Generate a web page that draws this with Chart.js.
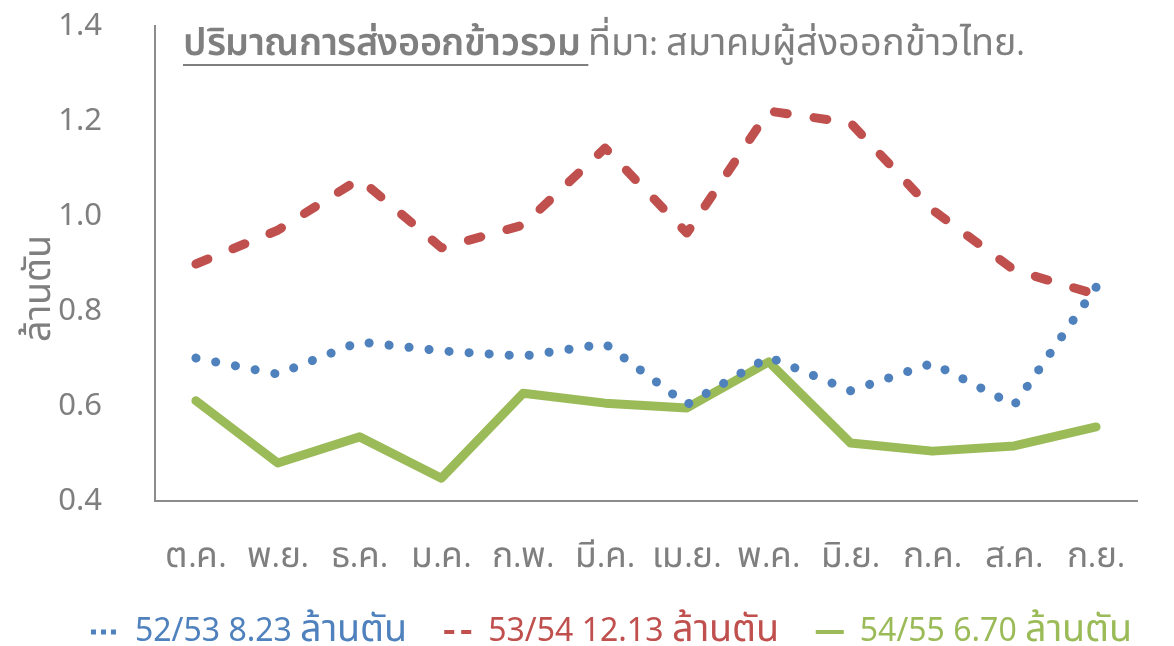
<!DOCTYPE html>
<html>
<head>
<meta charset="utf-8">
<script src="https://cdn.jsdelivr.net/npm/chart.js@4"></script>
<style>
  /* Thai glyphs in the original are drawn larger than the Latin digits */
  @font-face {
    font-family: "ThaiBig";
    src: local("Noto Sans Thai"), local("NotoSansThai-Regular"), local("Noto Sans Thai Regular");
    unicode-range: U+0E00-0E7F;
    size-adjust: 118%;
  }
  @font-face {
    font-family: "ThaiBig";
    font-weight: 600;
    src: local("Noto Sans Thai SemiBold"), local("NotoSansThai-SemiBold"), local("Noto Sans Thai Bold"), local("NotoSansThai-Bold");
    unicode-range: U+0E00-0E7F;
    size-adjust: 118%;
  }
  html, body { margin: 0; padding: 0; background: #ffffff; }
  #wrap { position: relative; width: 1174px; height: 646px; }
  #title {
    position: absolute; left: 183px; top: 23px;
    font-family: "ThaiBig", "Noto Sans", "Noto Sans Thai", sans-serif;
    font-size: 32px; color: #7f7f7f; white-space: nowrap; line-height: 40px;
  }
  #title u { font-weight: 600; letter-spacing: -0.4px; text-decoration-thickness: 2px; text-underline-offset: 9px; }
</style>
</head>
<body>
<div id="wrap">
  <canvas id="chartRice"></canvas>
  <div id="title"><u>ปริมาณการส่งออกข้าวรวม </u>ที่มา: สมาคมผู้ส่งออกข้าวไทย.</div>
</div>
<script>
const FONT = '"ThaiBig", "Noto Sans", "Noto Sans Thai", sans-serif';
const GREY = "#7f7f7f";

const months = ["ต.ค.", "พ.ย.", "ธ.ค.", "ม.ค.", "ก.พ.", "มี.ค.", "เม.ย.", "พ.ค.", "มิ.ย.", "ก.ค.", "ส.ค.", "ก.ย."];
const y5253 = [0.701, 0.667, 0.735, 0.716, 0.705, 0.731, 0.603, 0.703, 0.632, 0.690, 0.602, 0.850];
const y5354 = [0.899, 0.970, 1.078, 0.933, 0.981, 1.143, 0.964, 1.221, 1.196, 1.013, 0.886, 0.835];
const y5455 = [0.611, 0.480, 0.535, 0.448, 0.627, 0.606, 0.596, 0.693, 0.522, 0.505, 0.516, 0.556];
const seriesLabels = ["52/53 8.23 ล้านตัน", "53/54 12.13 ล้านตัน", "54/55 6.70 ล้านตัน"];
const yTicks = [0.4, 0.6, 0.8, 1.0, 1.2, 1.4];
const yTitle = "ล้านตัน";

// legend markers: dotted / dashed / solid, drawn as short line swatches
const legendDash = [[5, 5], [10, 7], []];
const legendWidth = [5, 4, 4];

// legend is centred on the whole picture in the original, not on the plot
const legendShift = {
  id: "legendShift",
  afterLayout(chart) {
    if (!chart.legend) return;
    chart.legend.left += 43;
    chart.legend.right += 43;
  },
};

const ctx = document.getElementById("chartRice").getContext("2d");
const chart = new Chart(ctx, {
  type: "line",
  data: {
    labels: months,
    datasets: [
      {
        label: seriesLabels[0],
        data: y5253,
        borderColor: "#4f81bd",
        borderWidth: 9,
        borderDash: [0.1, 20],
        borderCapStyle: "round",
        borderJoinStyle: "round",
        pointRadius: 0,
        tension: 0,
      },
      {
        label: seriesLabels[1],
        data: y5354,
        borderColor: "#c0504d",
        borderWidth: 9,
        borderDash: [13, 27],
        borderCapStyle: "round",
        borderJoinStyle: "round",
        pointRadius: 0,
        tension: 0,
      },
      {
        label: seriesLabels[2],
        data: y5455,
        borderColor: "#9bbb59",
        borderWidth: 9,
        borderCapStyle: "round",
        borderJoinStyle: "round",
        pointRadius: 0,
        tension: 0,
      },
    ],
  },
  options: {
    animation: false,
    responsive: true,
    maintainAspectRatio: false,
    layout: { padding: { top: 26, right: 37, left: 0, bottom: -12 } },
    plugins: {
      tooltip: { enabled: false },
      title: { display: false },
      legend: {
        position: "bottom",
        labels: {
          usePointStyle: true,
          pointStyleWidth: 28,
          boxHeight: 10,
          padding: 37,
          font: { family: FONT, size: 32 },
          generateLabels: (c) =>
            c.data.datasets.map((ds, i) => ({
              text: ds.label,
              fontColor: ds.borderColor,
              strokeStyle: ds.borderColor,
              fillStyle: ds.borderColor,
              lineWidth: legendWidth[i],
              lineDash: legendDash[i],
              lineCap: "butt",
              pointStyle: "line",
              hidden: false,
              datasetIndex: i,
            })),
        },
      },
    },
    scales: {
      x: {
        offset: true,
        grid: { display: true, drawOnChartArea: false, drawTicks: true, tickLength: 36, tickColor: "rgba(0,0,0,0)" },
        border: { display: true, color: "#8c8c8c", width: 2 },
        ticks: { color: GREY, padding: 3, maxRotation: 0, autoSkip: false, font: { family: FONT, size: 30 } },
        afterFit: (scale) => { scale.height = 78; },
      },
      y: {
        min: 0.4,
        max: 1.4,
        afterBuildTicks: (scale) => { scale.ticks = yTicks.map((v) => ({ value: v })); },
        grid: { display: true, drawOnChartArea: false, drawTicks: true, tickLength: 50, tickColor: "rgba(0,0,0,0)" },
        border: { display: true, color: "#8c8c8c", width: 2 },
        ticks: { color: GREY, padding: 3, font: { family: FONT, size: 31 }, callback: (v) => Number(v).toFixed(1) },
        // trailing spaces push the rotated label a little below the middle, as in the original
        title: { display: true, text: yTitle + "      ", color: GREY, padding: { top: 22, bottom: 0 }, font: { family: FONT, size: 32 } },
        afterFit: (scale) => { scale.width = 155; },
      },
    },
  },
  plugins: [legendShift],
});

// redraw once the size-adjusted Thai face is ready
document.fonts.load('30px "ThaiBig"', "ก").then(() => chart.update()).catch(() => {});
</script>
</body>
</html>
